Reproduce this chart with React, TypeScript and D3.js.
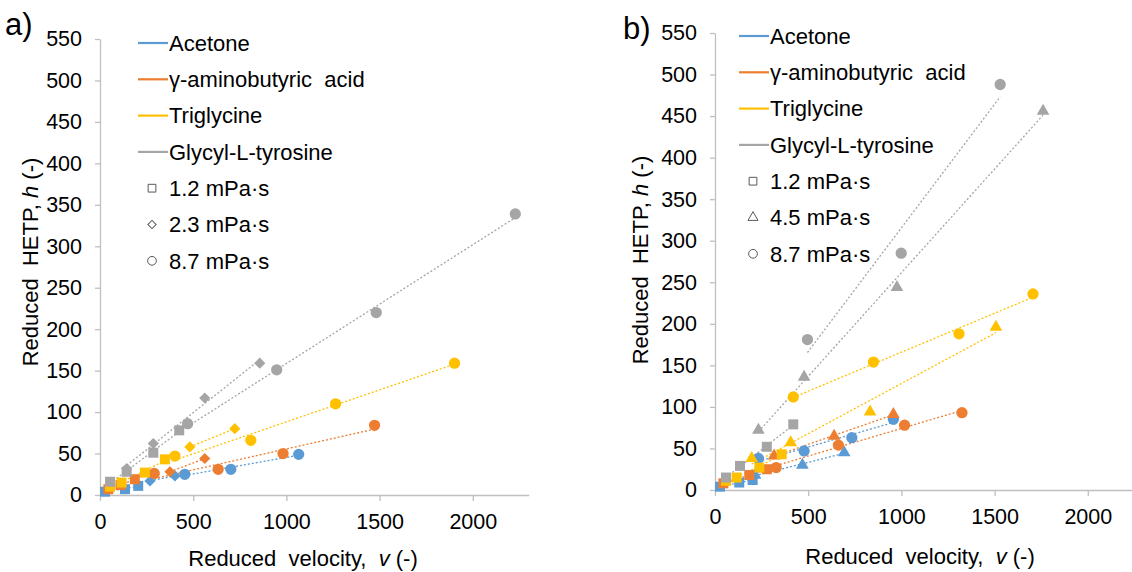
import React, { useRef, useEffect } from 'react';
import * as d3 from 'd3';

// tick values
const xTicks = [0, 500, 1000, 1500, 2000];
const yTicks = [0, 50, 100, 150, 200, 250, 300, 350, 400, 450, 500, 550];

const compounds = ['Acetone', 'γ-aminobutyric\u00a0 acid', 'Triglycine', 'Glycyl-L-tyrosine'];
const colors = ['#5b9bd5', '#ed7d31', '#ffc000', '#a5a5a5'];

const viscA = ['1.2 mPa·s', '2.3 mPa·s', '8.7 mPa·s'];
const viscB = ['1.2 mPa·s', '4.5 mPa·s', '8.7 mPa·s'];

// panel a) — [reduced velocity, reduced HETP]
const aAcetone12 = [[27, 4], [134, 7], [205, 11]];
const aAcetone23 = [[268, 17], [402, 23]];
const aAcetone87 = [[455, 25], [702, 31], [1066, 49]];
const aGaba12 = [[45, 7], [110, 12], [187, 19]];
const aGaba23 = [[375, 28], [562, 44]];
const aGaba87 = [[291, 26], [634, 31], [982, 50], [1473, 84]];
const aTrigly12 = [[54, 10], [116, 15], [241, 27], [348, 43]];
const aTrigly23 = [[482, 58], [723, 80]];
const aTrigly87 = [[402, 47], [809, 66], [1264, 110], [1902, 159]];
const aGlyTyr12 = [[54, 16], [143, 28], [286, 51], [425, 78]];
const aGlyTyr23 = [[143, 32], [286, 62], [562, 117], [857, 159]];
const aGlyTyr87 = [[470, 86], [948, 151], [1482, 220], [2228, 339]];

// panel b)
const bAcetone12 = [[27, 4], [130, 9], [202, 12]];
const bAcetone45 = [[215, 18], [469, 30], [693, 45]];
const bAcetone87 = [[233, 38], [478, 47], [734, 63], [957, 85]];
const bGaba12 = [[45, 8], [184, 18], [278, 25]];
const bGaba45 = [[317, 41], [639, 65], [957, 91]];
const bGaba87 = [[328, 27], [662, 54], [1017, 78], [1325, 93]];
const bTrigly12 = [[59, 11], [116, 15], [238, 27], [358, 43]];
const bTrigly45 = [[197, 38], [406, 57], [832, 94], [1507, 196]];
const bTrigly87 = [[420, 112], [850, 154], [1309, 188], [1706, 236]];
const bGlyTyr12 = [[59, 15], [134, 29], [278, 52], [420, 79]];
const bGlyTyr45 = [[233, 72], [478, 136], [976, 244], [1760, 456]];
const bGlyTyr87 = [[496, 181], [999, 285], [1530, 488]];

const seriesA = [
  [aAcetone12, aAcetone23, aAcetone87],
  [aGaba12, aGaba23, aGaba87],
  [aTrigly12, aTrigly23, aTrigly87],
  [aGlyTyr12, aGlyTyr23, aGlyTyr87],
];
const seriesB = [
  [bAcetone12, bAcetone45, bAcetone87],
  [bGaba12, bGaba45, bGaba87],
  [bTrigly12, bTrigly45, bTrigly87],
  [bGlyTyr12, bGlyTyr45, bGlyTyr87],
];

const FONT = '"Liberation Sans", Arial, sans-serif';

function fit(pts: number[][]) {
  const mx = d3.mean(pts, d => d[0])!;
  const my = d3.mean(pts, d => d[1])!;
  const sxy = d3.sum(pts, d => (d[0] - mx) * (d[1] - my));
  const sxx = d3.sum(pts, d => (d[0] - mx) ** 2);
  const m = sxx ? sxy / sxx : 0;
  return { m, b: my - m * mx };
}

function symbolPath(kind: string, size: number) {
  if (kind === 'triangle') return d3.symbol(d3.symbolTriangle, size)();
  if (kind === 'circle') return d3.symbol(d3.symbolCircle, size)();
  return d3.symbol(d3.symbolSquare, size)(); // diamond = rotated square
}

function drawPanel(svg: any, opts: any) {
  const { left, bottom, top, series, shapes, visc, label, legendX, legendY, titleX, titleY, yTitleX, yTitleY, labelX, labelY } = opts;
  const x = d3.scaleLinear().domain([0, 2300]).range([left, left + 93.2 * 4.6]);
  const y = d3.scaleLinear().domain([0, 550]).range([bottom, top]);
  const g = svg.append('g');

  const yAxis = g.append('g')
    .attr('transform', `translate(${left},0)`)
    .call(d3.axisLeft(y).tickValues(yTicks).tickFormat(d3.format('d')).tickSize(5).tickSizeOuter(0).tickPadding(13));
  const xAxis = g.append('g')
    .attr('transform', `translate(0,${bottom})`)
    .call(d3.axisBottom(x).tickValues(xTicks).tickFormat(d3.format('d')).tickSize(6).tickSizeOuter(0).tickPadding(13));
  [xAxis, yAxis].forEach(a => {
    a.select('.domain').attr('stroke', '#bfbfbf').attr('stroke-width', 1.3);
    a.selectAll('.tick line').attr('stroke', '#bfbfbf').attr('stroke-width', 1.3);
    a.selectAll('.tick text').attr('fill', '#000').style('font-family', FONT).style('font-size', '21.5px');
  });

  // trendlines
  series.forEach((group: number[][][], ci: number) => {
    group.forEach(pts => {
      const { m, b } = fit(pts);
      const [x0, x1] = d3.extent(pts, d => d[0]) as [number, number];
      g.append('line')
        .attr('x1', x(x0)).attr('y1', y(m * x0 + b))
        .attr('x2', x(x1)).attr('y2', y(m * x1 + b))
        .attr('stroke', colors[ci]).attr('stroke-width', 1.3)
        .attr('stroke-dasharray', '2 2');
    });
  });

  // markers
  series.forEach((group: number[][][], ci: number) => {
    group.forEach((pts, si) => {
      const kind = shapes[si];
      const size = kind === 'circle' ? 100 : kind === 'square' ? 100 : kind === 'diamond' ? 62 : 70;
      g.selectAll(null)
        .data(pts)
        .enter()
        .append('path')
        .attr('d', symbolPath(kind, size))
        .attr('transform', (d: number[]) => `translate(${x(d[0])},${y(d[1])})${kind === 'diamond' ? ' rotate(45)' : ''}`)
        .attr('fill', colors[ci]);
    });
  });

  // legend
  const step = 36.3;
  compounds.forEach((c, i) => {
    const ly = legendY + i * step;
    g.append('line')
      .attr('x1', legendX).attr('x2', legendX + 30)
      .attr('y1', ly).attr('y2', ly)
      .attr('stroke', colors[i]).attr('stroke-width', 2.2);
    g.append('text')
      .attr('x', legendX + 31).attr('y', ly)
      .attr('dy', '0.35em')
      .style('font-family', FONT).style('font-size', '22px')
      .text(c);
  });
  visc.forEach((v: string, i: number) => {
    const ly = legendY + (i + 4) * step;
    const kind = shapes[i];
    g.append('path')
      .attr('d', symbolPath(kind, kind === 'diamond' ? 34 : kind === 'triangle' ? 44 : 60))
      .attr('transform', `translate(${legendX + 14},${ly})${kind === 'diamond' ? ' rotate(45)' : ''}`)
      .attr('fill', '#fff').attr('stroke', '#595959').attr('stroke-width', 1);
    g.append('text')
      .attr('x', legendX + 31).attr('y', ly)
      .attr('dy', '0.35em')
      .style('font-family', FONT).style('font-size', '22px')
      .text(v);
  });

  // axis titles
  const xt = g.append('text')
    .attr('x', titleX).attr('y', titleY).attr('dy', '0.35em')
    .attr('text-anchor', 'middle')
    .style('font-family', FONT).style('font-size', '22px');
  xt.append('tspan').text('Reduced\u00a0 velocity,\u00a0 ');
  xt.append('tspan').attr('font-style', 'italic').text('v');
  xt.append('tspan').text(' (-)');

  const yt = g.append('text')
    .attr('transform', `translate(${yTitleX},${yTitleY}) rotate(-90)`)
    .attr('dy', '0.35em')
    .attr('text-anchor', 'middle')
    .style('font-family', FONT).style('font-size', '22px');
  yt.append('tspan').text('Reduced\u00a0 HETP, ');
  yt.append('tspan').attr('font-style', 'italic').text('h');
  yt.append('tspan').text(' (-)');

  g.append('text')
    .attr('x', labelX).attr('y', labelY)
    .style('font-family', FONT).style('font-size', '31px')
    .text(label);
}

export default function App() {
  const svgRef = useRef<SVGSVGElement>(null);

  useEffect(() => {
    const svg = d3.select(svgRef.current);
    svg.selectAll('*').remove();

    drawPanel(svg, {
      left: 100, bottom: 495, top: 39,
      series: seriesA, shapes: ['square', 'diamond', 'circle'], visc: viscA,
      label: 'a)', labelX: 5, labelY: 35,
      legendX: 138, legendY: 43,
      titleX: 303, titleY: 558,
      yTitleX: 30, yTitleY: 262,
    });
    drawPanel(svg, {
      left: 715, bottom: 490, top: 33,
      series: seriesB, shapes: ['square', 'triangle', 'circle'], visc: viscB,
      label: 'b)', labelX: 623, labelY: 39,
      legendX: 739, legendY: 36,
      titleX: 920, titleY: 556,
      yTitleX: 640, yTitleY: 260,
    });
  }, []);

  return (
    <svg
      ref={svgRef}
      width={1132}
      height={572}
      style={{ position: 'absolute', left: 0, top: 0, background: '#fff' }}
    />
  );
}
